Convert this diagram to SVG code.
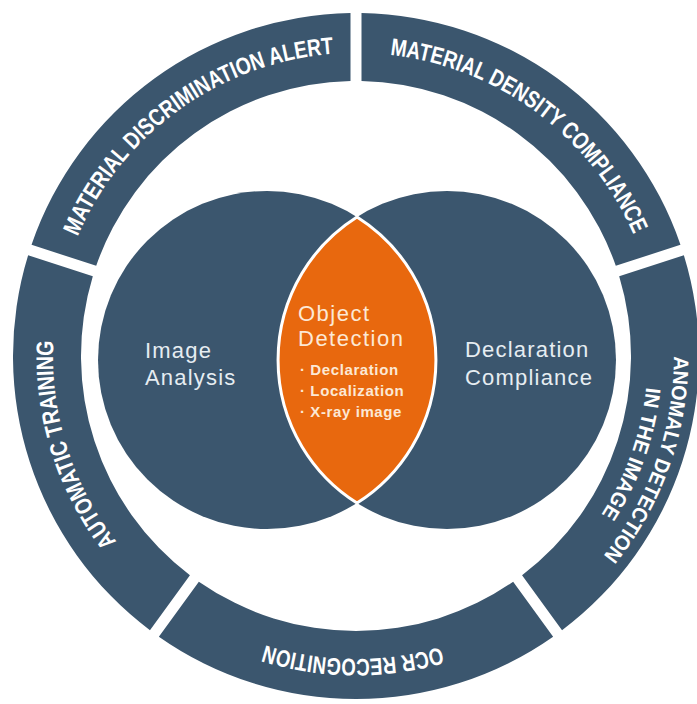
<svg xmlns="http://www.w3.org/2000/svg" width="697" height="704" viewBox="0 0 697 704">
<style>
.seg{fill:#3B566E}
.rt{font-family:"Liberation Sans",Arial,sans-serif;font-weight:700;font-size:24px;fill:#FFFFFF}
.rt2{font-family:"Liberation Sans",Arial,sans-serif;font-weight:700;font-size:21px;fill:#FFFFFF}
.circ{fill:#3B566E}
.ct{font-family:"Liberation Sans",Arial,sans-serif;font-size:22px;fill:#E6EDF2;letter-spacing:1.2px}
.lens{fill:#E8680E;stroke:#FFFFFF;stroke-width:3}
.lt{font-family:"Liberation Sans",Arial,sans-serif;font-size:22px;fill:#FCE8D5;letter-spacing:1.5px}
.lb{font-family:"Liberation Sans",Arial,sans-serif;font-size:15px;font-weight:700;fill:#FCE8D5;letter-spacing:0.6px}
</style>
<defs>
<path id="tp1" d="M77.5,236.64 A303,303 0 0 1 333.81,53.81" fill="none"/>
<path id="tp2" d="M389.78,54.89 A303,303 0 0 1 633.66,234.69" fill="none"/>
<path id="tp3a" d="M674,356 A318,318 0 0 1 603.13,556.12" fill="none"/>
<path id="tp3b" d="M646.32,387.28 A292,292 0 0 1 601.31,514.39" fill="none"/>
<path id="tp4" d="M440.53,646.97 A303,303 0 0 1 265.39,645.13" fill="none"/>
<path id="tp5" d="M116.58,541.71 A303,303 0 0 1 53.39,340.67" fill="none"/>
</defs>
<rect width="697" height="704" fill="#FFFFFF"/>
<g id="seg-discrimination">
<path class="seg" d="M31.53,244.79 A343,343 0 0 1 350.5,13.04 L350.5,81.06 A275,275 0 0 0 96.21,265.81 Z"/>
<text class="rt"><textPath href="#tp1" startOffset="50%" text-anchor="middle" textLength="331" lengthAdjust="spacingAndGlyphs">MATERIAL DISCRIMINATION ALERT</textPath></text>
</g>
<g id="seg-density">
<path class="seg" d="M361.5,13.04 A343,343 0 0 1 680.47,244.79 L615.79,265.81 A275,275 0 0 0 361.5,81.06 Z"/>
<text class="rt"><textPath href="#tp2" startOffset="50%" text-anchor="middle" textLength="317" lengthAdjust="spacingAndGlyphs">MATERIAL DENSITY COMPLIANCE</textPath></text>
</g>
<g id="seg-anomaly">
<path class="seg" d="M683.87,255.25 A343,343 0 0 1 562.04,630.23 L522.06,575.21 A275,275 0 0 0 619.19,276.27 Z"/>
<text class="rt2"><textPath href="#tp3a" startOffset="50%" text-anchor="middle" textLength="216" lengthAdjust="spacingAndGlyphs">ANOMALY DETECTION</textPath> <textPath href="#tp3b" startOffset="50%" text-anchor="middle" textLength="136" lengthAdjust="spacingAndGlyphs">IN THE IMAGE</textPath></text>
</g>
<g id="seg-ocr">
<path class="seg" d="M553.14,636.69 A343,343 0 0 1 158.86,636.69 L198.84,581.67 A275,275 0 0 0 513.16,581.67 Z"/>
<text class="rt"><textPath href="#tp4" startOffset="50%" text-anchor="middle" textLength="178" lengthAdjust="spacingAndGlyphs">OCR RECOGNITION</textPath></text>
</g>
<g id="seg-training">
<path class="seg" d="M149.96,630.23 A343,343 0 0 1 28.13,255.25 L92.81,276.27 A275,275 0 0 0 189.94,575.21 Z"/>
<text class="rt"><textPath href="#tp5" startOffset="50%" text-anchor="middle" textLength="215" lengthAdjust="spacingAndGlyphs">AUTOMATIC TRAINING</textPath></text>
</g>
<g id="image-analysis">
<circle class="circ" cx="267" cy="360" r="169"/>
<text class="ct" x="145" y="358">Image</text>
<text class="ct" x="145" y="385">Analysis</text>
</g>
<g id="declaration-compliance">
<circle class="circ" cx="447" cy="360" r="169"/>
<text class="ct" x="465" y="357">Declaration</text>
<text class="ct" x="465" y="385">Compliance</text>
</g>
<g id="object-detection">
<path class="lens" d="M357,217 A169,169 0 0 1 357,503 A169,169 0 0 1 357,217 Z"/>
<text class="lt" x="298" y="321">Object</text>
<text class="lt" x="298" y="346">Detection</text>
<text class="lb" x="300" y="375">· Declaration</text>
<text class="lb" x="300" y="396">· Localization</text>
<text class="lb" x="300" y="417">· X-ray image</text>
</g>
<g id="connectors"/>
</svg>
